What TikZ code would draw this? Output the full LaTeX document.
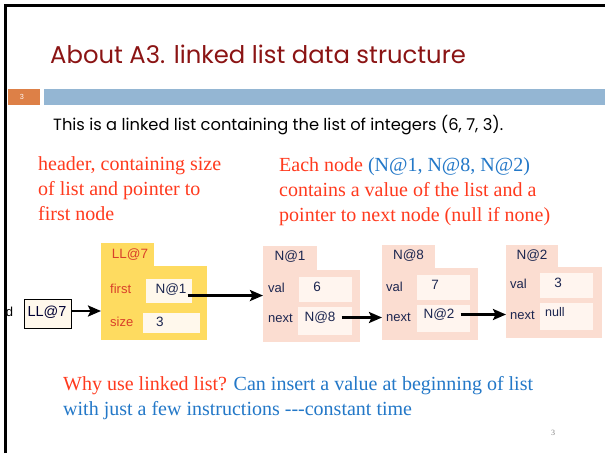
\documentclass[tikz,border=0pt]{standalone}
\usepackage{fontspec}
\setmainfont{Liberation Serif}
\setsansfont{Liberation Sans}
\newfontfamily\slidefont{Poppins}
\usetikzlibrary{arrows.meta}

\definecolor{titlered}{HTML}{8B1414}
\definecolor{barblue}{HTML}{94B6D3}
\definecolor{barorange}{HTML}{DD8047}
\definecolor{notered}{HTML}{FF3A1E}
\definecolor{noteblue}{HTML}{2378C8}
\definecolor{hdryellow}{HTML}{FEDB60}
\definecolor{hdrfield}{HTML}{FFF8EC}
\definecolor{objpink}{HTML}{FBDDD1}
\definecolor{objfield}{HTML}{FFF5EF}
\definecolor{hdrlabel}{HTML}{D9402A}
\definecolor{objtext}{HTML}{1C2650}

\tikzset{
  slidetext/.style={inner sep=0pt, anchor=base west},
  note/.style={slidetext, font=\fontsize{20}{25}\selectfont},
  box/.style={inner sep=0pt, outer sep=0pt},
  hdrpart/.style={box, fill=hdryellow},
  hdrslot/.style={box, fill=hdrfield},
  objpart/.style={box, fill=objpink},
  objslot/.style={box, fill=objfield},
  fieldname/.style={inner sep=0pt, anchor=west, font=\sffamily\fontsize{13}{15}\selectfont},
  fieldval/.style={inner sep=0pt, font=\sffamily\fontsize{13.5}{15}\selectfont, text=objtext},
  ptr/.style={line width=2.4pt, -{Stealth[length=13pt,width=11pt,inset=2.5pt]}},
}

\begin{document}
\begin{tikzpicture}[x=1pt,y=-1pt]
\useasboundingbox (0,0) rectangle (605,453);
\fill[white] (0,0) rectangle (605,453);

% slide frame
\draw[line width=2.7pt] (5.3,453) -- (5.3,5.3) -- (605,5.3);

% title and band
\node[slidetext, text=titlered, font=\slidefont\fontsize{24.3}{29}\selectfont] (title) at (50,63)
  {About A3. linked list data structure};
\fill[barorange] (8,89) rectangle (40,105);
\fill[barblue] (44,89) rectangle (605,105);
\node[text=white, font=\slidefont\fontsize{7}{8}\selectfont, inner sep=0pt] (slidenum) at (22,97) {3};
\node[slidetext, font=\slidefont\fontsize{16.3}{20}\selectfont] (intro) at (53,130)
  {This is a linked list containing the list of integers (6, 7, 3).};

% explanatory notes
\node[note, text=notered, align=left, anchor=north west] (hdrnote) at (38,156)
  {header, containing size\\of list and pointer to\\first node};
\node[note, text=notered, align=left, anchor=north west] (objnote) at (279,157.5)
  {Each node \textcolor{noteblue}{(N@1, N@8, N@2)}\\contains a value of the list and a\\pointer to next node (null if none)};

% variable holding the list
\node[slidetext, font=\sffamily\fontsize{13}{15}\selectfont, anchor=center] (dvar) at (9.5,312) {d};
\node[box, draw=black, line width=0.8pt, fill=hdrfield, minimum width=47pt, minimum height=29pt] (var) at (47.5,313.5) {};
\node[fieldval, text=black!80!blue, font=\sffamily\fontsize{14.5}{16}\selectfont] (vartext) at (47,312) {LL@7};

% header object LL@7
\node[hdrpart, minimum width=53pt, minimum height=26pt] (lltab) at (127.5,255.5) {};
\node[hdrpart, minimum width=106pt, minimum height=74pt] (llbody) at (154,303) {};
\node[inner sep=0pt, text=hdrlabel, font=\sffamily\fontsize{13.5}{15}\selectfont] (lltitle) at (130,255) {LL@7};
\node[fieldname, text=hdrlabel] (firstlbl) at (110,289) {first};
\node[hdrslot, minimum width=46pt, minimum height=24pt] (firstslot) at (169,291) {};
\node[fieldval] (firstval) at (171,289.5) {N@1};
\node[fieldname, text=hdrlabel] (sizelbl) at (110,322) {size};
\node[hdrslot, minimum width=57pt, minimum height=20pt] (sizeslot) at (171.5,323) {};
\node[fieldval] (sizeval) at (160,321.5) {3};

% node object N@1
\node[objpart, minimum width=54pt, minimum height=25pt] (atab) at (290,258) {};
\node[objpart, minimum width=97pt, minimum height=72pt] (abody) at (311.5,306) {};
\node[fieldval] (atitle) at (290,257) {N@1};
\node[fieldname, text=objtext] (avallbl) at (268,288) {val};
\node[objslot, minimum width=53pt, minimum height=25pt] (avalslot) at (325.5,289.5) {};
\node[fieldval] (aval) at (317,287) {6};
\node[fieldname, text=objtext] (anextlbl) at (268,318) {next};
\node[objslot, minimum width=54pt, minimum height=28pt] (anextslot) at (325,321) {};
\node[fieldval] (anext) at (320,317.5) {N@8};

% node object N@8
\node[objpart, minimum width=53pt, minimum height=24pt] (btab) at (408.5,256.5) {};
\node[objpart, minimum width=96pt, minimum height=72pt] (bbody) at (430,304) {};
\node[fieldval] (btitle) at (408.5,256) {N@8};
\node[fieldname, text=objtext] (bvallbl) at (386,287) {val};
\node[objslot, minimum width=53pt, minimum height=25pt] (bvalslot) at (443.5,287.5) {};
\node[fieldval] (bval) at (435,285) {7};
\node[fieldname, text=objtext] (bnextlbl) at (386,317) {next};
\node[objslot, minimum width=53pt, minimum height=27pt] (bnextslot) at (443.5,318.5) {};
\node[fieldval] (bnext) at (439,314.5) {N@2};

% node object N@2
\node[objpart, minimum width=52pt, minimum height=23pt] (ctab) at (532,256) {};
\node[objpart, minimum width=96pt, minimum height=71pt] (cbody) at (554,302.5) {};
\node[fieldval] (ctitle) at (532,255.5) {N@2};
\node[fieldname, text=objtext] (cvallbl) at (510,284) {val};
\node[objslot, minimum width=53pt, minimum height=25pt] (cvalslot) at (566.5,285.5) {};
\node[fieldval] (cval) at (558,283) {3};
\node[fieldname, text=objtext] (cnextlbl) at (510,315) {next};
\node[objslot, minimum width=53pt, minimum height=27pt] (cnextslot) at (566.5,316.5) {};
\node[fieldval, anchor=west, font=\sffamily\fontsize{12.5}{14}\selectfont] (cnext) at (545,312) {null};

% references
\draw[ptr] (var.east |- 0,311) -- (llbody.west |- 0,311);
\draw[ptr] (firstval.south east) ++(1,0) -- (firstval.south east -| abody.west);
\draw[ptr] ([xshift=6pt]anext.east) -- (anext.east -| bbody.west);
\draw[ptr] ([xshift=6pt]bnext.east) -- (bnext.east -| cbody.west);

% closing remark
\node[note, text=noteblue, align=left, anchor=north west] (remark) at (63,376)
  {\textcolor{notered}{Why use linked list?} Can insert a value at beginning of list\\with just a few instructions -{}-{}-constant time};
\node[inner sep=0pt, text=gray, font=\fontsize{8}{9}\selectfont] (pagenum) at (553,433) {3};
\end{tikzpicture}
\end{document}
